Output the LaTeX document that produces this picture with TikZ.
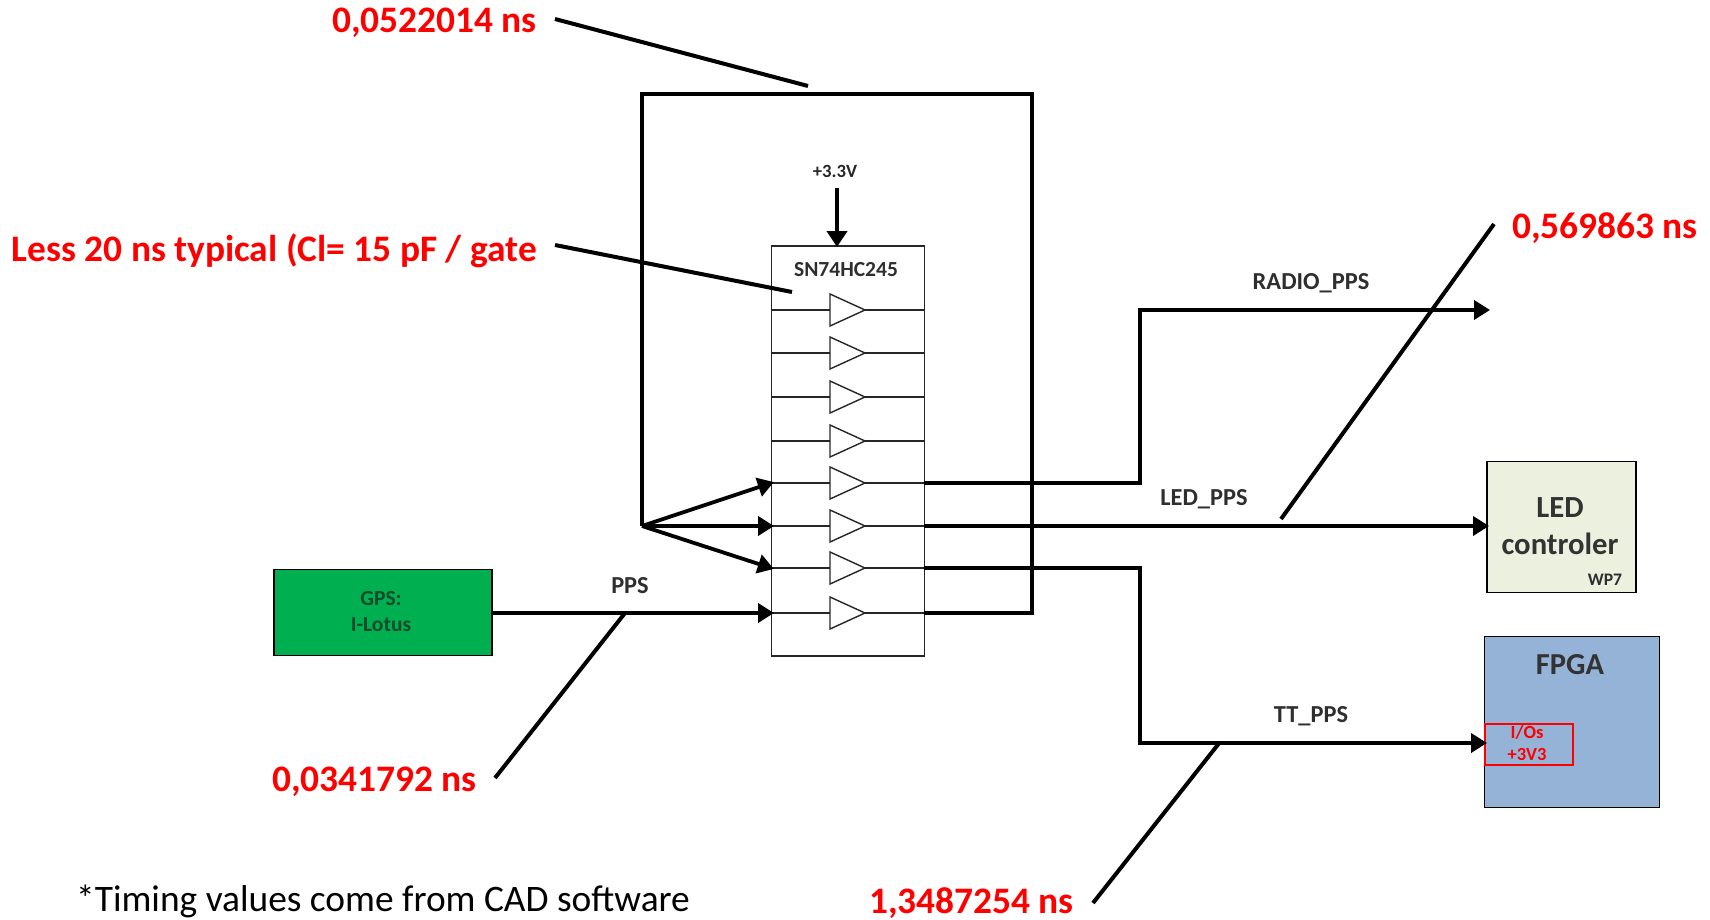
\documentclass[tikz,border=0pt]{standalone}
\usepackage{fontspec}
\setmainfont{Carlito}
\usetikzlibrary{arrows.meta,calc}
\definecolor{gpsgreen}{HTML}{00B050}
\definecolor{ledgreen}{HTML}{EBF1DE}
\definecolor{fpgablue}{HTML}{95B3D7}
\definecolor{lab}{HTML}{2E2E2E}
\definecolor{gpstext}{HTML}{0F4A2B}
\definecolor{redtxt}{HTML}{FF0000}
\tikzset{
  boxn/.style={draw=black,line width=1.8pt,rectangle,inner sep=0pt,anchor=north west},
  wire/.style={line width=3.8pt,black,line cap=butt,line join=miter},
  awire/.style={wire,shorten >=-3pt,-{Triangle[length=16pt,width=19pt]}},
  callout/.style={line width=4pt,black},
  thin wire/.style={line width=1.4pt,black!85},
  timing/.style={text=redtxt,font=\bfseries\fontsize{37.4}{40}\selectfont,inner sep=0pt},
  siglab/.style={text=lab,font=\bfseries\fontsize{24.4}{28}\selectfont,inner sep=0pt},
  buf/.style={draw=black!85,line width=1.4pt,fill=white,line join=miter}
}
\begin{document}
\begin{tikzpicture}[x=1pt,y=-1pt]
\useasboundingbox (0,0) rectangle (1710,920);
% IC
\node[boxn,draw=black!85,line width=1.8pt,minimum width=153pt,minimum height=410pt] (ic) at (770.5,245) {};
\node[siglab,font=\bfseries\fontsize{21.5}{24}\selectfont] (ictxt) at (846,270) {SN74HC245};
% buffers
\foreach \n/\y in {1/310,2/353,3/397,4/441,5/483,6/526,7/568,8/613}{
  \coordinate (in\n) at (771,\y);
  \coordinate (out\n) at (924,\y);
  \coordinate (a\n) at (830,\y);
  \coordinate (b\n) at (865,\y);
  \draw[thin wire] (in\n) -- (a\n);
  \draw[thin wire] (b\n) -- (out\n);
  \draw[buf] (830,\y-16) -- (865,\y) -- (830,\y+16) -- cycle;
}
% boxes
\node[boxn,fill=gpsgreen,minimum width=218pt,minimum height=86pt] (gps) at (273,568.5) {};
\node[siglab,font=\bfseries\fontsize{21.5}{25}\selectfont,text=gpstext,align=center] (gpstxt) at (381,612) {GPS:\\[1pt]I-Lotus};
\node[boxn,fill=ledgreen,minimum width=149pt,minimum height=131pt] (led) at (1486,460.5) {};
\node[text=black!80,font=\bfseries\fontsize{30.7}{37}\selectfont,align=center,inner sep=0pt] (ledtxt) at (1560,526) {LED\\controler};
\node[siglab,font=\bfseries\fontsize{17.6}{20}\selectfont] (wp) at (1605,580) {WP7};
\node[boxn,fill=fpgablue,minimum width=175pt,minimum height=171pt] (fpga) at (1483.5,635.5) {};
\node[text=black!80,font=\bfseries\fontsize{30.5}{32}\selectfont,inner sep=0pt] (fpgatxt) at (1570,665) {FPGA};
\node[boxn,draw=red,line width=2.2pt,minimum width=88pt,minimum height=41pt] (io) at (1484,722.5) {};
\node[text=red,font=\bfseries\fontsize{18.5}{22}\selectfont,align=center,inner sep=0pt] (iotxt) at (1527,743) {I/Os\\+3V3};
% loop
\coordinate (rj) at (642,526);
\coordinate (lt) at (642,94);
\coordinate (rt) at (1032,94);
\coordinate (rb) at (1032,613);
\draw[wire] (out8) -- (rb) -- (rt) -- (lt) -- (rj);
\draw[awire] (rj) -- (in5);
\draw[awire] (rj) -- (in6);
\draw[awire] (rj) -- (in7);
% signals
\draw[awire] (gps.east |- in8) -- (in8);
\coordinate (r1) at (1140,483);
\coordinate (r2) at (1140,310);
\coordinate (r3) at (1487,310);
\draw[awire] (out5) -- (r1) -- (r2) -- (r3);
\draw[awire] (out6) -- (led.west |- out6);
\coordinate (t1) at (1140,568);
\coordinate (t2) at (1140,743);
\draw[awire] (out7) -- (t1) -- (t2) -- (io.west |- t2);
% +3.3V
\node[siglab,font=\bfseries\fontsize{18.7}{20}\selectfont,text=black!85] (v33) at (835,171) {+3.3V};
\coordinate (v) at (837,188);
\draw[wire,line width=4.4pt,shorten >=-2pt,-{Triangle[length=16pt,width=20pt]}] (v) -- (v |- ic.north);
% labels
\node[siglab] (ppsl) at (630,586) {PPS};
\node[siglab] (radl) at (1311,283) {RADIO\_PPS};
\node[siglab] (ledl) at (1204,499) {LED\_PPS};
\node[siglab] (ttl) at (1311,716) {TT\_PPS};
% timings
\node[timing,anchor=east] (t1n) at (537,23) {0,0522014 ns};
\node[timing,anchor=east] (t2n) at (537,251) {Less 20 ns typical (Cl= 15 pF / gate};
\node[timing,anchor=east] (t3n) at (1698,228) {0,569863 ns};
\node[timing,anchor=east] (t4n) at (477,782) {0,0341792 ns};
\node[timing,anchor=base east] (t5n) at (1074,913) {1,3487254 ns};
\coordinate (c1a) at (555,19); \coordinate (c1b) at (808,86);
\coordinate (c2a) at (555,245); \coordinate (c2b) at (792,292);
\coordinate (c3a) at (1494,224); \coordinate (c3b) at (1281,519);
\coordinate (c4a) at (495,778); \coordinate (c4b) at (625,613);
\coordinate (c5a) at (1093,903); \coordinate (c5b) at (1220,742);
\draw[callout] (c1a) -- (c1b);
\draw[callout] (c2a) -- (c2b);
\draw[callout] (c3a) -- (c3b);
\draw[callout] (c4a) -- (c4b);
\draw[callout] (c5a) -- (c5b);
\node[font=\fontsize{37.4}{40}\selectfont,text=black,anchor=base west,inner sep=0pt] (note) at (76,911) {*Timing values come from CAD software};
\end{tikzpicture}
\end{document}
